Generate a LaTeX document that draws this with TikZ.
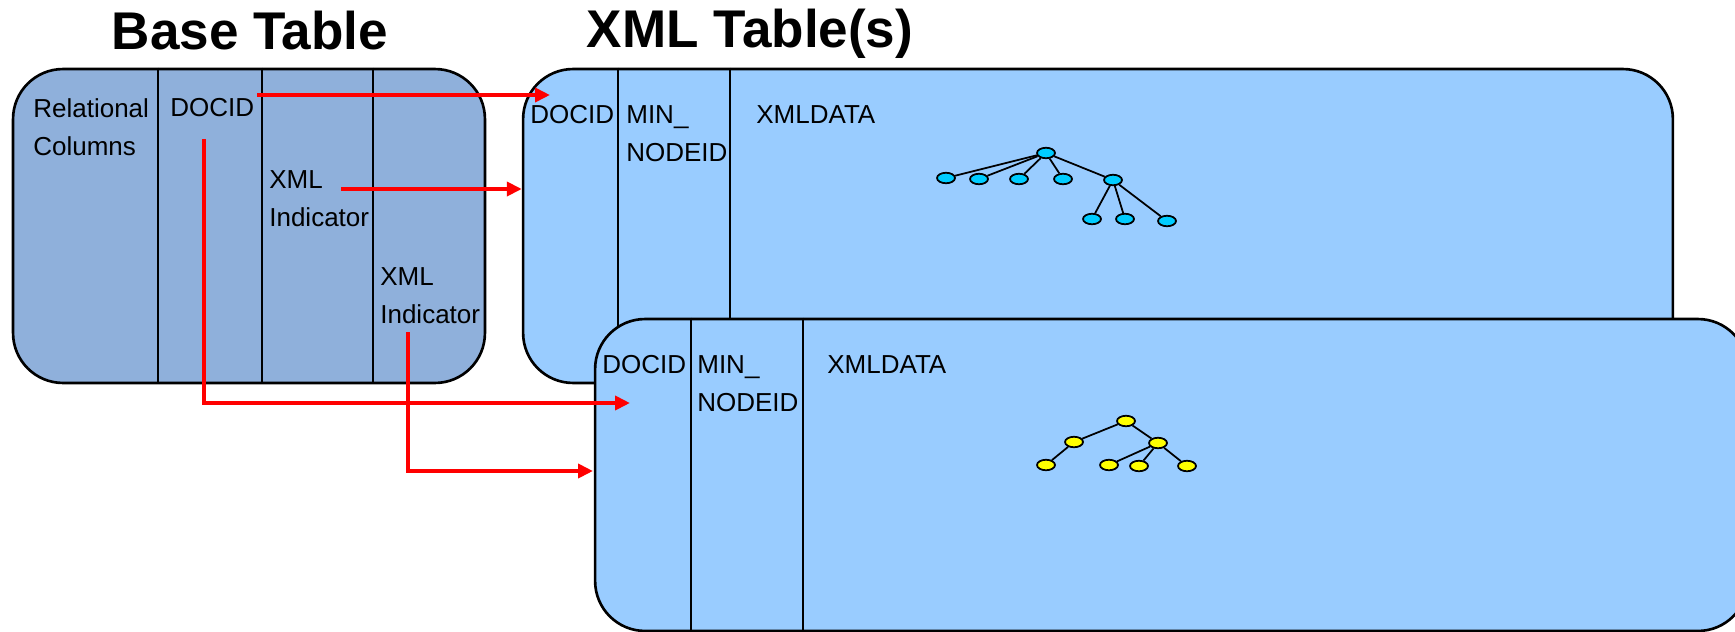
\documentclass[tikz,border=0pt]{standalone}
\usepackage{fontspec}
\setmainfont{Liberation Sans}
\usepackage{tikz}
\usetikzlibrary{positioning}
\usetikzlibrary{shapes.geometric}
\usetikzlibrary{arrows.meta}
\definecolor{basefill}{RGB}{143,176,219}
\definecolor{xmlfill}{RGB}{153,204,255}
\definecolor{cyannode}{RGB}{0,204,255}
\definecolor{yellownode}{RGB}{255,255,0}
\definecolor{linkred}{RGB}{255,0,0}

\begin{document}
\begin{tikzpicture}[x=0.02cm, y=-0.02cm,
		tablebox/.style={draw=black, line width=1.5pt, rounded corners=1cm, inner sep=0pt},
		divider/.style={black, line width=1.4pt},
		celltext/.style={anchor=north west, inner sep=0pt, align=left, font=\fontsize{14.8}{21.6}\selectfont},
		heading/.style={anchor=base, inner sep=0pt, font=\fontsize{30.2}{36}\selectfont\bfseries},
		leaf/.style={ellipse, draw=black, line width=1pt, minimum width=0.36cm, minimum height=0.21cm, inner sep=0pt},
		twig/.style={black, line width=1pt},
		link/.style={linkred, line width=2.3pt, -{Triangle[length=0.3cm, width=0.28cm]}}]
		\clip (0,0) rectangle (1735,632);
		\node[heading] (basetitle) at (250,50) {Base Table};
		\node[heading] (xmltitle) at (750,48) {XML Table(s)};
		\node[tablebox, fill=basefill, minimum width=9.44cm, minimum height=6.28cm] (base) at (249,226) {};
		\foreach \x in {158,262,373}
			\draw[divider] (\x,0 |- base.north) -- (\x,0 |- base.south);
		\node[celltext] (brel) at (33,98) {Relational\\Columns};
		\node[celltext] (bdocid) at (170,98) {DOCID};
		\node[celltext] (bxml1) at (269,170) {XML\\Indicator};
		\node[celltext] (bxml2) at (380,267) {XML\\Indicator};
		\node[tablebox, fill=xmlfill, minimum width=23cm, minimum height=6.28cm] (t1) at (1098,226) {};
		\foreach \x in {618,730}
			\draw[divider] (\x,0 |- t1.north) -- (\x,0 |- t1.south);
		\node[celltext] (t1docid) at (530,105) {DOCID};
		\node[celltext] (t1min) at (626,105) {MIN\_\\NODEID};
		\node[celltext] (t1data) at (756,105) {XMLDATA};
		\node[leaf, fill=cyannode] (r) at (1046,153) {};
		\node[leaf, fill=cyannode] (c1) at (946,178) {};
		\node[leaf, fill=cyannode] (c2) at (979,179) {};
		\node[leaf, fill=cyannode] (c3) at (1019,179) {};
		\node[leaf, fill=cyannode] (c4) at (1063,179) {};
		\node[leaf, fill=cyannode] (c5) at (1113,180) {};
		\node[leaf, fill=cyannode] (g1) at (1092,219) {};
		\node[leaf, fill=cyannode] (g2) at (1125,219) {};
		\node[leaf, fill=cyannode] (g3) at (1167,221) {};
		\foreach \c in {c1,c2,c3,c4,c5}
			\draw[twig] (r) -- (\c);
		\foreach \g in {g1,g2,g3}
			\draw[twig] (c5) -- (\g);
		\node[tablebox, fill=xmlfill, minimum width=23.06cm, minimum height=6.24cm] (t2) at (1171.5,475) {};
		\foreach \x in {691,803}
			\draw[divider] (\x,0 |- t2.north) -- (\x,0 |- t2.south);
		\node[celltext] (t2docid) at (602,355) {DOCID};
		\node[celltext] (t2min) at (697,355) {MIN\_\\NODEID};
		\node[celltext] (t2data) at (827,355) {XMLDATA};
		\node[leaf, fill=yellownode] (yr) at (1126,421) {};
		\node[leaf, fill=yellownode] (ya) at (1074,442) {};
		\node[leaf, fill=yellownode] (yb) at (1158,443) {};
		\node[leaf, fill=yellownode] (ya1) at (1046,465) {};
		\node[leaf, fill=yellownode] (yb1) at (1109,465) {};
		\node[leaf, fill=yellownode] (yb2) at (1139,466) {};
		\node[leaf, fill=yellownode] (yb3) at (1187,466) {};
		\draw[twig] (yr) -- (ya);
		\draw[twig] (yr) -- (yb);
		\draw[twig] (ya) -- (ya1);
		\foreach \y in {yb1,yb2,yb3}
			\draw[twig] (yb) -- (\y);
		\coordinate (docout) at (257,95);
		\coordinate (docin) at (550,95);
		\coordinate (xmlout) at (341,189);
		\coordinate (docdown) at (204,139);
		\coordinate (doc2in) at (630,403);
		\coordinate (xml2out) at (408,332);
		\coordinate (xml2in) at (593,471);
		\draw[link] (docout) -- (docin);
		\draw[link] (xmlout) -- (xmlout -| t1.west);
		\draw[link] (docdown) |- (doc2in);
		\draw[link] (xml2out) |- (xml2in);
	\end{tikzpicture}
\end{document}
